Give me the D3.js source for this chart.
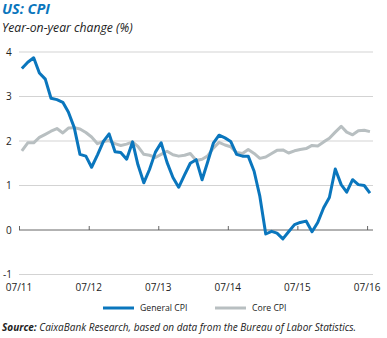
<!DOCTYPE html>
<html>
<head>
<meta charset="utf-8">
<script src="https://cdn.jsdelivr.net/npm/d3@7"></script>
<style>
	body { margin: 0; background: #fff; }
	svg { font-family: "Open Sans", "Noto Sans", sans-serif; }
</style>
</head>
<body>
<svg id="chart" width="387" height="338"></svg>
<script>
// monthly data, Jul 2011 - Jul 2016
var startMonth = new Date(2011, 6, 1);
var generalCPI = [3.63, 3.77, 3.87, 3.53, 3.39, 2.96,
	2.93, 2.87, 2.65, 2.30, 1.70, 1.66, 1.41, 1.69, 1.99, 2.16, 1.76, 1.74,
	1.59, 1.98, 1.47, 1.06, 1.36, 1.75, 1.96, 1.52, 1.18, 0.96, 1.24, 1.50,
	1.58, 1.13, 1.51, 1.95, 2.13, 2.07, 1.99, 1.70, 1.66, 1.66, 1.32, 0.76,
	-0.09, -0.03, -0.07, -0.20, -0.04, 0.12, 0.17, 0.20, -0.04, 0.17, 0.50, 0.73,
	1.37, 1.02, 0.85, 1.13, 1.02, 1.00, 0.83];
var coreCPI = [1.78, 1.96, 1.96, 2.08, 2.15, 2.22,
	2.28, 2.18, 2.29, 2.30, 2.27, 2.19, 2.09, 1.94, 1.99, 2.01, 1.94, 1.90,
	1.93, 1.98, 1.88, 1.70, 1.68, 1.63, 1.70, 1.77, 1.69, 1.66, 1.68, 1.72,
	1.56, 1.59, 1.66, 1.84, 1.97, 1.91, 1.87, 1.74, 1.72, 1.81, 1.72, 1.61,
	1.64, 1.72, 1.79, 1.80, 1.73, 1.78, 1.81, 1.83, 1.90, 1.89, 1.98, 2.06,
	2.20, 2.33, 2.20, 2.14, 2.23, 2.24, 2.21];
var yTicks = [-1, 0, 1, 2, 3, 4];
var xTickDates = [2011, 2012, 2013, 2014, 2015, 2016].map(function(y) { return new Date(y, 6, 1); });
var seriesNames = ["General CPI", "Core CPI"];

var blue = "#0a76bd", grey = "#b8bfc1";

var svg = d3.select("#chart");

var x = d3.scaleTime()
	.domain([new Date(2011, 6, 1), new Date(2016, 7, 1)])
	.range([19, 373]);
var y = d3.scaleLinear()
	.domain([-1, 4])
	.range([274.5, 52]);

function monthDate(i) {
	return new Date(startMonth.getFullYear(), startMonth.getMonth() + i, 16);
}

// title
svg.append("text").attr("x", 2).attr("y", 14)
	.attr("fill", blue).attr("font-size", 14.5).attr("font-weight", "bold").attr("font-style", "italic")
	.text("US: CPI");
svg.append("text").attr("x", 2).attr("y", 32)
	.attr("fill", "#222").attr("font-size", 12.2).attr("font-style", "italic")
	.text("Year-on-year change (%)");

// grid
var g_grid = svg.append("g");
g_grid.selectAll("line").data(yTicks.filter(function(d) { return d != 0; }))
	.enter().append("line")
	.attr("x1", 19).attr("x2", 373)
	.attr("y1", function(d) { return y(d); })
	.attr("y2", function(d) { return y(d); })
	.attr("stroke", "#c8c8c8").attr("stroke-width", 0.8);

svg.append("g").selectAll("text").data(yTicks)
	.enter().append("text")
	.attr("x", function(d) { return d < 0 ? 3 : 6; })
	.attr("y", function(d) { return y(d) + 3.5; })
	.attr("font-size", 10).attr("fill", "#222")
	.text(function(d) { return d; });

// zero axis with ticks
var axisX = d3.axisTop(x).tickValues(xTickDates).tickSize(4).tickFormat("");
var g_axis = svg.append("g").attr("transform", "translate(0," + y(0) + ")").call(axisX);
g_axis.select(".domain").attr("stroke", "#555").attr("stroke-width", 0.9).attr("d", "M19,0H373");
g_axis.selectAll(".tick line").attr("stroke", "#555").attr("stroke-width", 0.9);

// x labels
svg.append("g").selectAll("text").data(xTickDates)
	.enter().append("text")
	.attr("x", function(d) { return x(d); })
	.attr("y", 291)
	.attr("text-anchor", "middle")
	.attr("font-size", 10).attr("fill", "#222")
	.text(d3.timeFormat("%m/%y"));

// lines
var line = d3.line()
	.x(function(d, i) { return x(monthDate(i)); })
	.y(function(d) { return y(d); });

svg.append("path").attr("d", line(coreCPI))
	.attr("fill", "none").attr("stroke", grey).attr("stroke-width", 3).attr("stroke-linejoin", "round");
svg.append("path").attr("d", line(generalCPI))
	.attr("fill", "none").attr("stroke", blue).attr("stroke-width", 3).attr("stroke-linejoin", "round");

// legend
var legend = [{ name: seriesNames[0], color: blue, x: 103 }, { name: seriesNames[1], color: grey, x: 215 }];
var g_leg = svg.append("g");
legend.forEach(function(d) {
	g_leg.append("line").attr("x1", d.x).attr("x2", d.x + 31)
		.attr("y1", 308).attr("y2", 308)
		.attr("stroke", d.color).attr("stroke-width", 3);
	g_leg.append("text").attr("x", d.x + 37).attr("y", 311)
		.attr("font-size", 8.7).attr("fill", "#222").text(d.name);
});

// source
var src = svg.append("text").attr("x", 2).attr("y", 331)
	.attr("font-size", 10).attr("font-style", "italic").attr("fill", "#222");
src.append("tspan").attr("font-weight", "bold").text("Source:");
src.append("tspan").text(" CaixaBank Research, based on data from the Bureau of Labor Statistics.");
</script>
</body>
</html>
